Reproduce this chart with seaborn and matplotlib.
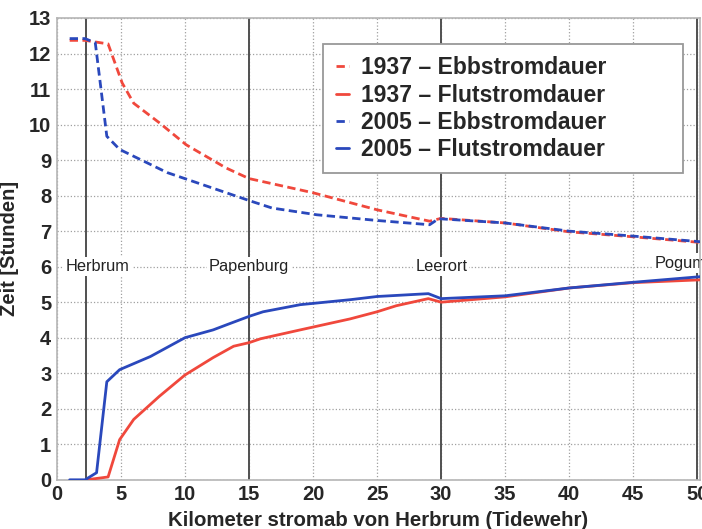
import matplotlib
matplotlib.use("Agg")
import matplotlib.pyplot as plt
import seaborn as sns
import pandas as pd

# Ebbstromdauer / Flutstromdauer entlang der Ems (km ab Herbrum)
km_ebb_1937 = [1, 2.2, 4.0, 5.1, 6.0, 8.0, 10.1, 13.2, 15.0, 20.0, 25.0, 29.1, 30.0, 35, 40, 45, 50.3]
ebb_1937 = [12.37, 12.37, 12.27, 11.17, 10.6, 10.05, 9.43, 8.78, 8.48, 8.08, 7.6, 7.28, 7.36, 7.23, 6.98, 6.84, 6.68]

km_ebb_2005 = [1, 2.2, 3.0, 3.9, 4.9, 8.6, 15.1, 16.8, 20.3, 25.0, 29.1, 29.8, 35, 40, 45, 50.3]
ebb_2005 = [12.42, 12.42, 12.3, 9.67, 9.3, 8.65, 7.85, 7.65, 7.46, 7.3, 7.18, 7.35, 7.23, 7.0, 6.86, 6.7]

km_flut_1937 = [2.3, 4.0, 4.9, 6.0, 8.0, 10.0, 12.2, 13.8, 15.0, 15.9, 19.0, 22.9, 25.0, 26.5, 29.0, 30.0, 35, 40, 45, 50.3]
flut_1937 = [0.0, 0.08, 1.13, 1.7, 2.35, 2.95, 3.44, 3.76, 3.86, 3.97, 4.22, 4.53, 4.73, 4.9, 5.1, 5.0, 5.15, 5.4, 5.55, 5.63]

km_flut_2005 = [1, 2.2, 3.1, 3.9, 4.9, 7.3, 10.0, 12.2, 13.3, 15.0, 16.1, 19.0, 22.9, 25.0, 29.0, 30.0, 35, 40, 45, 50.3]
flut_2005 = [0.0, 0.0, 0.2, 2.76, 3.1, 3.47, 4.0, 4.22, 4.37, 4.6, 4.73, 4.93, 5.07, 5.16, 5.24, 5.1, 5.18, 5.4, 5.56, 5.72]

orte = ["Herbrum", "Papenburg", "Leerort", "Pogum"]
orte_km = [2.3, 15, 30, 50]

rot = "#f0483c"
blau = "#2a48bc"

sns.set_style("whitegrid")
plt.rcParams["font.family"] = ["Liberation Sans", "DejaVu Sans"]

fig = plt.figure(figsize=(7.02, 5.29), dpi=100)
ax = fig.add_axes([0.081, 0.093, 0.916, 0.873])

# Orts-Linien
for name, k in zip(orte, orte_km):
    ax.axvline(k, color="#505050", lw=1.4, zorder=1)
    if name == "Herbrum":
        tx, ha = 3.2, "center"
    elif name == "Pogum":
        tx, ha = 46.7, "left"
    else:
        tx, ha = k, "center"
    ax.text(tx, 6.0 if name != "Pogum" else 6.1, name, fontsize=11.8, ha=ha, va="center",
            color="#222222", zorder=2,
            bbox=dict(facecolor="white", edgecolor="none", pad=1.5))

dash = (0, (3, 1.6))
sns.lineplot(x=km_ebb_1937, y=ebb_1937, ax=ax, color=rot, lw=2, linestyle=dash,
             label="1937 – Ebbstromdauer", zorder=3)
sns.lineplot(x=km_flut_1937, y=flut_1937, ax=ax, color=rot, lw=2,
             label="1937 – Flutstromdauer", zorder=3)
sns.lineplot(x=km_ebb_2005, y=ebb_2005, ax=ax, color=blau, lw=2, linestyle=dash,
             label="2005 – Ebbstromdauer", zorder=4)
sns.lineplot(x=km_flut_2005, y=flut_2005, ax=ax, color=blau, lw=2,
             label="2005 – Flutstromdauer", zorder=4)

ax.set_xlim(0, 50.2)
ax.set_ylim(0, 13)
ax.set_xticks(range(0, 51, 5))
ax.set_yticks(range(0, 14))
ax.grid(True, linestyle=":", color="#a0a0a0", lw=0.9)
for s in ax.spines.values():
    s.set_color("#b5b5b5")
    s.set_linewidth(1.2)
ax.tick_params(length=0, pad=4, labelsize=14.5)
for lab in ax.get_xticklabels() + ax.get_yticklabels():
    lab.set_fontweight("bold")

ax.set_xlabel("Kilometer stromab von Herbrum (Tidewehr)", fontsize=14.7, fontweight="bold", labelpad=5)
ax.set_ylabel("Zeit [Stunden]", fontsize=14.5, fontweight="bold", labelpad=7)

leg = ax.legend(loc="upper left", bbox_to_anchor=(0.414, 0.944, 0.56, 0.0), mode="expand",
                prop={"weight": "bold", "size": 16.5}, handlelength=0.6, handletextpad=0.5,
                labelspacing=0.18, borderpad=0.55, borderaxespad=0, fancybox=False, framealpha=1)
leg.get_frame().set_edgecolor("#999999")
leg.get_frame().set_linewidth(1.3)

fig.savefig("out.png", dpi=100)
